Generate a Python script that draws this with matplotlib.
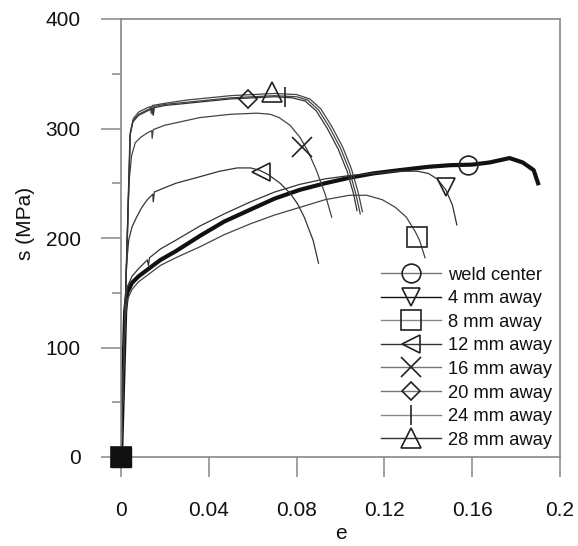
import matplotlib
matplotlib.use("Agg")
import matplotlib.pyplot as plt
from matplotlib.lines import Line2D
from matplotlib.ticker import MultipleLocator

plt.rcParams['font.family'] = ['Liberation Sans', 'DejaVu Sans']

labels = ["weld center", "4 mm away", "8 mm away", "12 mm away",
          "16 mm away", "20 mm away", "24 mm away", "28 mm away"]
markers = ["o", "v", "s", "<", "x", "D", "|", "^"]

# strain / stress curves
e_weld = [0, 0.0019, 0.0028, 0.005, 0.008, 0.012, 0.018, 0.025, 0.036, 0.047, 0.059,
          0.070, 0.0815, 0.093, 0.104, 0.115, 0.127, 0.140, 0.150, 0.160, 0.168, 0.177,
          0.183, 0.188, 0.190]
s_weld = [0, 133, 150, 159, 165, 171, 180, 188, 202, 215, 226,
          236, 244, 250, 255, 259, 262, 265, 266.5, 267, 269, 273,
          269, 262, 250]

e_4 = [0, 0.002, 0.003, 0.005, 0.008, 0.012, 0.0125, 0.013, 0.018, 0.025, 0.036, 0.047,
       0.059, 0.070, 0.0815, 0.093, 0.104, 0.115, 0.127, 0.135, 0.140, 0.144, 0.148,
       0.151, 0.153]
s_4 = [0, 140, 156, 165, 172, 180, 175, 182, 190, 198, 211, 222,
       233, 242, 249, 254, 257, 259, 261, 261, 259, 254, 244,
       230, 212]

e_8 = [0, 0.0018, 0.0028, 0.005, 0.008, 0.012, 0.018, 0.025, 0.036, 0.047, 0.059,
       0.070, 0.0815, 0.093, 0.104, 0.112, 0.119, 0.125, 0.130, 0.134, 0.136, 0.1385]
s_8 = [0, 125, 143, 153, 160, 166, 175, 182, 192, 203, 213,
       221, 228, 235, 239, 239, 235, 228, 219, 206, 198, 182]

e_12 = [0, 0.0025, 0.0035, 0.005, 0.0071, 0.0095, 0.012, 0.0145, 0.0147, 0.0152, 0.020,
        0.025, 0.036, 0.045, 0.053, 0.059, 0.063, 0.067, 0.0725, 0.077, 0.0805,
        0.0835, 0.0875, 0.0900]
s_12 = [0, 175, 198, 210, 219, 228, 235, 240, 233, 242, 246,
        250, 256, 261, 264, 264, 262, 258, 250, 241, 231,
        219, 198, 177]

e_16 = [0, 0.0036, 0.0048, 0.0065, 0.009, 0.012, 0.014, 0.0142, 0.0147, 0.020, 0.036,
        0.050, 0.062, 0.068, 0.072, 0.077, 0.0815, 0.085, 0.089, 0.093, 0.096]
s_16 = [0, 250, 275, 287, 292, 296, 298, 291, 299, 303, 310,
        313, 314, 313, 310, 303, 292, 280, 262, 240, 219]

e_20 = [0, 0.0042, 0.0055, 0.008, 0.012, 0.014, 0.0142, 0.0147, 0.020, 0.030, 0.040,
        0.050, 0.060, 0.070, 0.080, 0.085, 0.090, 0.095, 0.100, 0.104, 0.107, 0.109]
s_20 = [0, 295, 307, 313, 317, 319, 313, 320, 322, 324, 326,
        328, 329, 330, 329, 326, 317, 301, 282, 262, 240, 222]

e_24 = [0, 0.0043, 0.0056, 0.008, 0.012, 0.0135, 0.0137, 0.0142, 0.020, 0.030, 0.040,
        0.050, 0.060, 0.070, 0.080, 0.086, 0.091, 0.096, 0.101, 0.105, 0.108, 0.110]
s_24 = [0, 297, 309, 315, 319, 320, 314, 321, 323, 326, 328,
        330, 331, 332, 331, 327, 318, 302, 283, 263, 242, 224]

e_28 = [0, 0.0041, 0.0054, 0.008, 0.012, 0.0145, 0.0147, 0.0152, 0.020, 0.030, 0.040,
        0.050, 0.060, 0.070, 0.078, 0.084, 0.089, 0.094, 0.099, 0.103, 0.106, 0.1075]
s_28 = [0, 294, 306, 312, 316, 318, 312, 319, 321, 323, 325,
        327, 328, 329, 328, 325, 316, 300, 281, 261, 240, 225]

curves_e = [e_weld, e_4, e_8, e_12, e_16, e_20, e_24, e_28]
curves_s = [s_weld, s_4, s_8, s_12, s_16, s_20, s_24, s_28]

# marker positions (first marker at origin, second along the curve)
mark_e = [[0, 0.158], [0, 0.148], [0, 0.135], [0, 0.064],
          [0, 0.0824], [0, 0.058], [0, 0.0747], [0, 0.069]]
mark_s = [[0, 266.7], [0, 247], [0, 201], [0, 260],
          [0, 283], [0, 327], [0, 329], [0, 333]]

xticks = [0, 0.04, 0.08, 0.12, 0.16, 0.2]
xticklabels = ["0", "0.04", "0.08", "0.12", "0.16", "0.2"]
yticks = [0, 100, 200, 300, 400]

line_colors = ["#111111", "#333333", "#444444", "#333333",
               "#444444", "#444444", "#444444", "#333333"]
legend_colors = ["#777777", "#111111", "#888888", "#333333",
                 "#777777", "#777777", "#888888", "#333333"]
line_widths = [3.0, 0.9, 0.9, 0.9, 0.9, 0.9, 0.9, 0.9]
msizes = [13.5, 13.5, 14.0, 13.5, 14.0, 9.0, 15.0, 14.0]

FS = 15

fig = plt.figure(figsize=(5.78, 5.46), dpi=100)
ax = fig.add_axes([121/578, 1 - 457/546, (560-121)/578, (457-19)/546])

for i in range(8):
    ax.plot(curves_e[i], curves_s[i], color=line_colors[i], lw=line_widths[i],
            solid_joinstyle='round', zorder=2)
    ax.plot(mark_e[i], mark_s[i], linestyle='none', marker=markers[i],
            markersize=msizes[i], markerfacecolor='none', markeredgecolor='#222222',
            markeredgewidth=1.2, clip_on=False, zorder=3)

# dark blob of overlapping markers at origin
ax.plot([0], [0], linestyle='none', marker='s', markersize=14, markerfacecolor='#111111',
        markeredgecolor='#111111', clip_on=False, zorder=4)

ax.set_xlim(0, 0.2)
ax.set_ylim(0, 400)
ax.set_xticks(xticks)
ax.set_xticklabels(xticklabels)
ax.set_yticks(yticks)
ax.yaxis.set_minor_locator(MultipleLocator(50))

for sp in ax.spines.values():
    sp.set_color('#888888')
    sp.set_linewidth(1.2)

ax.tick_params(axis='both', which='major', direction='out', length=14.4, width=1.1,
               color='#888888', labelsize=FS, labelcolor='#111111')
ax.tick_params(axis='y', which='major', pad=14.5)
ax.tick_params(axis='x', which='major', pad=17)
ax.tick_params(axis='y', which='minor', direction='out', length=6.5, width=1.1,
               color='#888888')

ax.set_xlabel("e", fontsize=FS, color='#111111')
ax.xaxis.set_label_coords(0.5, (457 - 524) / 438)
ax.set_ylabel("s (MPa)", fontsize=FS, color='#111111')
ax.yaxis.set_label_coords(-(121 - 35) / 439, (457 - 223.5) / 438)

handles = []
for i in range(8):
    handles.append(Line2D([0], [0], color=legend_colors[i], lw=1.0, marker=markers[i],
                          markersize=msizes[i], markerfacecolor='none',
                          markeredgecolor='#222222', markeredgewidth=1.2))
leg = ax.legend(handles, labels, loc='upper left',
                bbox_to_anchor=((381 - 121) / 439, (457 - 266.5) / 438),
                frameon=False, fontsize=13.2, handlelength=3.25, handletextpad=0.42,
                labelspacing=0.36, borderpad=0, borderaxespad=0, labelcolor='#111111')

fig.savefig("out.png", dpi=100)
